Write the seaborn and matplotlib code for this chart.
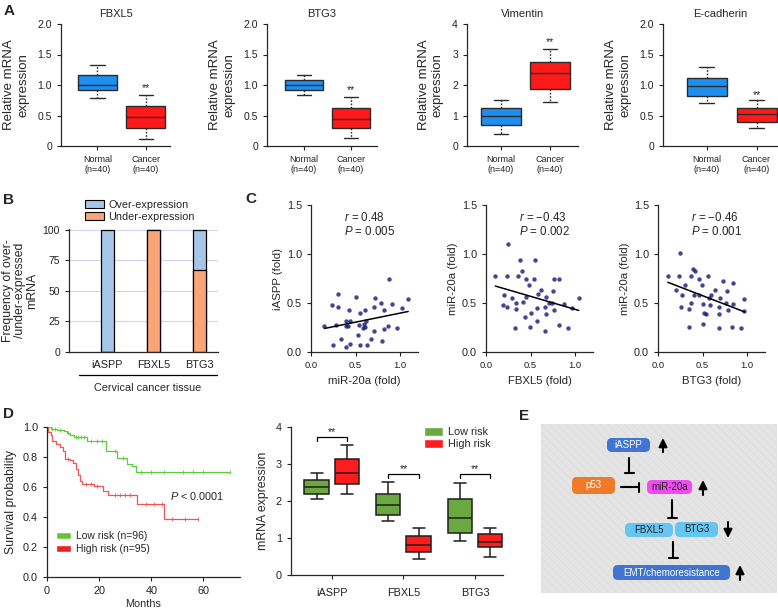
import numpy as np
import pandas as pd
import matplotlib
matplotlib.use("Agg")
import matplotlib.pyplot as plt
from matplotlib.patches import Patch, FancyBboxPatch, Rectangle
import seaborn as sns

# ---------------- data ----------------
# Panel A: five-number summaries (whisker low, q1, median, q3, whisker high)
genes_a = ["FBXL5", "BTG3", "Vimentin", "E-cadherin"]
groups_a = ["Normal\n(n=40)", "Cancer\n(n=40)"]
fbxl5_normal = [0.78, 0.91, 1.00, 1.17, 1.32]
fbxl5_cancer = [0.12, 0.30, 0.48, 0.66, 0.83]
btg3_normal = [0.83, 0.92, 1.00, 1.08, 1.17]
btg3_cancer = [0.13, 0.30, 0.45, 0.63, 0.80]
vim_normal = [0.40, 0.70, 1.00, 1.25, 1.52]
vim_cancer = [1.45, 1.88, 2.38, 2.75, 3.18]
ecad_normal = [0.71, 0.82, 0.98, 1.12, 1.30]
ecad_cancer = [0.30, 0.40, 0.52, 0.63, 0.75]
star_y_a = [0.95, 0.92, 3.40, 0.84]
ymax_a = [2.0, 2.0, 4.0, 2.0]

# Panel B: frequency of over/under-expressed mRNA (%)
genes_b = ["iASPP", "FBXL5", "BTG3"]
over_b = [100, 0, 33]
under_b = [0, 100, 67]

# Panel C: scatter data
mir_c1 = [0.15, 0.25, 0.24, 0.30, 0.30, 0.28, 0.34, 0.39, 0.39, 0.39, 0.44, 0.43, 0.44,
          0.41, 0.50, 0.53, 0.54, 0.55, 0.55, 0.58, 0.60, 0.62, 0.61, 0.63, 0.67, 0.72,
          0.71, 0.71, 0.79, 0.80, 0.82, 0.82, 0.86, 0.87, 0.91, 0.97, 1.02, 1.09, 0.59]
iaspp_c1 = [0.27, 0.07, 0.48, 0.59, 0.46, 0.28, 0.13, 0.05, 0.32, 0.27, 0.32, 0.43, 0.08,
            0.27, 0.56, 0.17, 0.28, 0.40, 0.075, 0.25, 0.43, 0.32, 0.26, 0.075, 0.13, 0.55,
            0.46, 0.21, 0.50, 0.11, 0.43, 0.23, 0.27, 0.74, 0.49, 0.25, 0.45, 0.54, 0.29]
fbxl5_c2 = [0.105, 0.20, 0.19, 0.23, 0.25, 0.24, 0.29, 0.34, 0.34, 0.33, 0.36, 0.38, 0.40,
            0.41, 0.45, 0.45, 0.44, 0.48, 0.50, 0.49, 0.54, 0.55, 0.57, 0.58, 0.57, 0.62,
            0.66, 0.67, 0.67, 0.66, 0.74, 0.75, 0.76, 0.76, 0.82, 0.82, 0.87, 0.92, 0.97,
            1.04, 0.71]
mir_c2 = [0.78, 0.58, 0.48, 0.78, 1.10, 0.46, 0.55, 0.50, 0.44, 0.24, 0.78, 0.94, 0.83,
          0.51, 0.75, 0.56, 0.36, 0.68, 0.40, 0.26, 0.75, 0.94, 0.45, 0.59, 0.32, 0.63,
          0.46, 0.39, 0.56, 0.21, 0.50, 0.62, 0.75, 0.43, 0.75, 0.28, 0.49, 0.25, 0.45,
          0.55, 0.50]
btg3_c3 = [0.11, 0.20, 0.25, 0.24, 0.27, 0.26, 0.30, 0.35, 0.35, 0.37, 0.37, 0.39, 0.41,
           0.40, 0.46, 0.46, 0.49, 0.51, 0.51, 0.52, 0.54, 0.56, 0.58, 0.59, 0.64, 0.68,
           0.68, 0.68, 0.69, 0.73, 0.77, 0.76, 0.78, 0.83, 0.84, 0.84, 0.93, 0.96, 0.97, 0.57]
mir_c3 = [0.78, 0.63, 1.01, 0.78, 0.58, 0.46, 0.68, 0.44, 0.26, 0.50, 0.78, 0.85, 0.83,
          0.58, 0.58, 0.75, 0.68, 0.29, 0.49, 0.40, 0.39, 0.78, 0.48, 0.58, 0.63, 0.46,
          0.39, 0.25, 0.55, 0.72, 0.62, 0.50, 0.43, 0.26, 0.70, 0.49, 0.25, 0.42, 0.54, 0.55]
r_c = ["0.48", "\u22120.43", "\u22120.46"]
p_c = ["0.005", "0.002", "0.001"]

# Panel D left: Kaplan-Meier step values
low_t = [0, 1.5, 4, 6.5, 7.5, 9, 10.5, 15.5, 22.5, 27, 30.5, 32.5, 34, 70]
low_s = [1.0, 0.99, 0.98, 0.975, 0.96, 0.945, 0.935, 0.91, 0.84, 0.795, 0.755, 0.74, 0.70, 0.70]
high_t = [0, 0.5, 1.5, 2, 3.5, 5, 6, 6.8, 9, 10, 11, 11.8, 12.5, 13.5, 18, 21.5, 23.5, 34.5, 45, 58]
high_s = [1.0, 0.97, 0.95, 0.91, 0.89, 0.87, 0.84, 0.79, 0.78, 0.76, 0.72, 0.68, 0.64, 0.62,
          0.61, 0.575, 0.545, 0.49, 0.39, 0.39]
low_cens = [2, 3, 5, 8, 11, 12, 13, 14, 17, 19, 21, 26, 29, 36, 40, 45, 52, 56, 60, 70]
high_cens = [8, 15, 17, 19, 26, 28, 30, 32, 38, 41, 44, 48, 53, 58]

# Panel D right: five-number summaries by risk group
genes_d = ["iASPP", "FBXL5", "BTG3"]
risk_d = ["Low risk", "High risk"]
low_iaspp = [2.05, 2.20, 2.38, 2.57, 2.77]
high_iaspp = [2.20, 2.47, 2.75, 3.13, 3.52]
low_fbxl5 = [1.45, 1.62, 1.88, 2.20, 2.52]
high_fbxl5 = [0.43, 0.62, 0.82, 1.05, 1.28]
low_btg3 = [0.92, 1.13, 1.55, 2.05, 2.48]
high_btg3 = [0.50, 0.75, 0.90, 1.12, 1.27]
bracket_y_d = [3.73, 2.73, 2.73]

# ---------------- style ----------------
sns.set_style("ticks")
plt.rcParams["font.family"] = ["Liberation Sans", "DejaVu Sans"]
plt.rcParams["mathtext.fontset"] = "custom"
plt.rcParams["mathtext.rm"] = "Liberation Sans"
plt.rcParams["mathtext.it"] = "Liberation Sans:italic"
plt.rcParams["xtick.labelsize"] = 7.5
plt.rcParams["ytick.labelsize"] = 7.5
plt.rcParams["axes.linewidth"] = 0.9
plt.rcParams["xtick.major.size"] = 3
plt.rcParams["ytick.major.size"] = 3
plt.rcParams["hatch.linewidth"] = 0.4

W, H = 778, 610
fig = plt.figure(figsize=(W / 100, H / 100), dpi=100)


def px_axes(left, top, width, height):
    return fig.add_axes([left / W, 1 - (top + height) / H, width / W, height / H])


def clean(ax):
    sns.despine(ax=ax)
    ax.tick_params(colors="#222222", width=0.8)


# ---------------- panel A ----------------
a_blue, a_red = "#1e8ff0", "#ff1a1a"
normals = [fbxl5_normal, btg3_normal, vim_normal, ecad_normal]
cancers = [fbxl5_cancer, btg3_cancer, vim_cancer, ecad_cancer]
a_layout = [(61, 109, (-0.75, 1.5)), (267, 110, (-0.78, 1.55)),
            (467, 111, (-0.69, 1.57)), (663, 115, (-0.87, 1.43))]
for gene, normal, cancer, ymax, star, (left, width, xl) in zip(
        genes_a, normals, cancers, ymax_a, star_y_a, a_layout):
    ax = px_axes(left, 24, width, 122)
    df = pd.DataFrame({"group": [groups_a[0]] * 5 + [groups_a[1]] * 5,
                       "value": normal + cancer})
    sns.boxplot(data=df, x="group", y="value", hue="group", palette=[a_blue, a_red],
                saturation=1, width=0.8, whis=np.inf, linecolor="#2a2a2a", linewidth=1.0,
                showfliers=False, legend=False, ax=ax, capwidths=0.3,
                whiskerprops={"linestyle": (0, (1.2, 1.2))})
    ax.text(1, star, "**", ha="center", va="center", fontsize=7.5)
    ax.set_xlim(*xl)
    ax.set_ylim(0, ymax)
    if ymax == 4.0:
        ax.set_yticks([0, 1, 2, 3, 4])
        ax.set_yticklabels(["0", "1", "2", "3", "4"])
    else:
        ax.set_yticks([0, 0.5, 1.0, 1.5, 2.0])
        ax.set_yticklabels(["0", "0.5", "1.0", "1.5", "2.0"])
    ax.set_xlabel("")
    ax.set_ylabel("Relative mRNA\nexpression", fontsize=9.5, labelpad=6)
    ax.set_title(gene, fontsize=8, pad=5)
    ax.tick_params(axis="x", labelsize=6.5)
    clean(ax)

# ---------------- panel B ----------------
b_over, b_under = "#a6c6e8", "#f9a576"
ax = px_axes(69, 229, 149, 123)
total_b = [o + u for o, u in zip(over_b, under_b)]
ax.yaxis.grid(True, color="#d2d2f2", lw=0.8)
ax.set_axisbelow(True)
sns.barplot(x=genes_b, y=total_b, color=b_over, saturation=1, width=0.28,
            edgecolor="black", linewidth=0.9, ax=ax)
sns.barplot(x=genes_b, y=under_b, color=b_under, saturation=1, width=0.28,
            edgecolor="black", linewidth=0.9, ax=ax)
ax.set_xlim(-0.83, 2.4)
ax.set_ylim(0, 100.6)
ax.set_yticks([0, 25, 50, 75, 100])
ax.tick_params(axis="x", length=0, labelsize=7.8, pad=6)
ax.set_ylabel("Frequency of over-\n/under-expressed\nmRNA", fontsize=8.8, labelpad=3,
              linespacing=1.05)
ax.plot([0.067, 0.99], [-0.19, -0.19], color="black", lw=0.9,
        transform=ax.transAxes, clip_on=False)
ax.text(0.53, -0.29, "Cervical cancer tissue", fontsize=7.8, ha="center", va="center",
        transform=ax.transAxes)
ax.legend(handles=[Patch(facecolor=b_over, edgecolor="black", lw=0.8, label="Over-expression"),
                   Patch(facecolor=b_under, edgecolor="black", lw=0.8, label="Under-expression")],
          loc="lower left", bbox_to_anchor=(85 / W, 1 - 222 / H), bbox_transform=fig.transFigure,
          frameon=False, fontsize=7.8, handlelength=1.75, handleheight=0.8,
          handletextpad=0.4, labelspacing=0.2, borderpad=0, borderaxespad=0)
clean(ax)

# ---------------- panel C ----------------
c_sets = [(mir_c1, iaspp_c1, "miR-20a (fold)", "iASPP (fold)"),
          (fbxl5_c2, mir_c2, "FBXL5 (fold)", "miR-20a (fold)"),
          (btg3_c3, mir_c3, "BTG3 (fold)", "miR-20a (fold)")]
c_left = [311, 486, 658]
for (xs, ys, xlab, ylab), left, r, p in zip(c_sets, c_left, r_c, p_c):
    ax = px_axes(left, 205, 107, 147)
    sns.regplot(x=np.array(xs), y=np.array(ys), ci=None, ax=ax,
                scatter_kws={"s": 10, "color": "#15157a", "linewidths": 0},
                line_kws={"color": "black", "lw": 1.1})
    ax.set_xlim(0, 1.2)
    ax.set_ylim(0, 1.5)
    ax.set_xticks([0, 0.5, 1.0])
    ax.set_xticklabels(["0.0", "0.5", "1.0"])
    ax.set_yticks([0, 0.5, 1.0, 1.5])
    ax.set_yticklabels(["0.0", "0.5", "1.0", "1.5"])
    ax.tick_params(axis="x", labelsize=6.8)
    ax.tick_params(axis="y", labelsize=7.8)
    ax.set_xlabel(xlab, fontsize=8.2, labelpad=4)
    ax.set_ylabel(ylab, fontsize=8.2, labelpad=3)
    ax.text(0.31, 0.915, "$r$ = " + r, fontsize=8.3, transform=ax.transAxes, va="center")
    ax.text(0.31, 0.82, "$P$ = " + p, fontsize=8.3, transform=ax.transAxes, va="center")
    clean(ax)

# ---------------- panel D left (survival) ----------------
km_green, km_red = "#5ccc3c", "#f25454"
ax = px_axes(47, 427, 193, 150)
for t, s, cens, col in [(low_t, low_s, low_cens, km_green), (high_t, high_s, high_cens, km_red)]:
    sns.lineplot(x=t, y=s, drawstyle="steps-post", color=col, lw=0.9, ax=ax,
                 estimator=None, sort=False)
    idx = np.searchsorted(t, cens, side="right") - 1
    ax.plot(cens, np.array(s)[idx], ls="none", marker="|", ms=2.5, mew=0.6, color=col)
ax.set_xlim(0, 74)
ax.set_ylim(0, 1.0)
ax.set_xticks([0, 20, 40, 60])
ax.set_yticks([0, 0.2, 0.4, 0.6, 0.8, 1.0])
ax.set_yticklabels(["0.0", "0.2", "0.4", "0.6", "0.8", "1.0"])
ax.tick_params(labelsize=7.8)
ax.set_xlabel("Months", fontsize=7.8, labelpad=2)
ax.set_ylabel("Survival probability", fontsize=8.8, labelpad=4)
ax.text(47, 0.54, "$P$ < 0.0001", fontsize=7.8, va="center")
ax.legend(handles=[Patch(facecolor="#66c43a", label="Low risk (n=96)"),
                   Patch(facecolor="#ee2020", label="High risk (n=95)")],
          loc="lower left", bbox_to_anchor=(56 / W, 1 - 554 / H), bbox_transform=fig.transFigure,
          frameon=False, fontsize=7.5, handlelength=1.4, handleheight=0.6,
          handletextpad=0.5, labelspacing=0.3, borderpad=0, borderaxespad=0)
clean(ax)

# ---------------- panel D right (boxes by risk) ----------------
d_green, d_red = "#6aa840", "#ff1c1c"
lows = [low_iaspp, low_fbxl5, low_btg3]
highs = [high_iaspp, high_fbxl5, high_btg3]
rows = []
for g, lo, hi in zip(genes_d, lows, highs):
    rows += [(g, risk_d[0], v) for v in lo] + [(g, risk_d[1], v) for v in hi]
df_d = pd.DataFrame(rows, columns=["gene", "risk", "value"])
ax = px_axes(291, 427, 212, 148)
sns.boxplot(data=df_d, x="gene", y="value", hue="risk", palette=[d_green, d_red],
            saturation=1, width=0.85, gap=0.2, whis=np.inf, linecolor="#1e1e1e",
            linewidth=1.1, showfliers=False, legend=False, ax=ax)
off = 0.85 / 4
for i, by in enumerate(bracket_y_d):
    ax.plot([i - off, i - off, i + off, i + off], [by - 0.12, by, by, by - 0.12],
            color="black", lw=0.9)
    ax.text(i, by + 0.14, "**", ha="center", va="center", fontsize=7.5)
ax.set_xlim(-0.57, 2.39)
ax.set_ylim(0, 4)
ax.set_yticks([0, 1, 2, 3, 4])
ax.set_xlabel("")
ax.set_ylabel("mRNA expression", fontsize=8.8, labelpad=5)
ax.tick_params(axis="x", labelsize=7.8, pad=6)
ax.tick_params(axis="y", labelsize=7.8)
ax.legend(handles=[Patch(facecolor=d_green, label=risk_d[0]),
                   Patch(facecolor=d_red, label=risk_d[1])],
          loc="lower left", bbox_to_anchor=(424 / W, 1 - 449 / H), bbox_transform=fig.transFigure,
          frameon=False, fontsize=7.8, handlelength=1.75, handleheight=0.85,
          handletextpad=0.45, labelspacing=0.15, borderpad=0, borderaxespad=0)
clean(ax)

# ---------------- panel E (schematic) ----------------
ax = px_axes(541, 424, 236, 169)
ax.set_xlim(0, 236)
ax.set_ylim(169, 0)
ax.axis("off")
ax.add_patch(Rectangle((0, 0), 236, 169, facecolor="#e4e4e4", edgecolor="#d9d9d9",
                       hatch="\\\\\\\\", lw=0))
nodes = {
    "iASPP": ((87.5, 21), 43, 14, "#4274d2", "white"),
    "p53": ((52.5, 61.5), 43, 17, "#ef7a2a", "white"),
    "miR-20a": ((128.5, 63), 45, 14, "#f04cf0", "#222222"),
    "FBXL5": ((108, 106), 48, 14, "#66c6f2", "#222222"),
    "BTG3": ((155.5, 105.5), 43, 15, "#66c6f2", "#222222"),
    "EMT/chemoresistance": ((130.5, 148.5), 117, 15, "#4274d2", "white"),
}
for name, ((cx, cy), w, h, fc, tc) in nodes.items():
    ax.add_patch(FancyBboxPatch((cx - w / 2 + 3, cy - h / 2 + 3), w - 6, h - 6,
                                boxstyle="round,pad=3,rounding_size=5",
                                facecolor=fc, edgecolor="none"))
    ax.text(cx, cy, name, ha="center", va="center", fontsize=7, color=tc)
# activation / repression arrows
for x, y0, y1 in [(122, 28, 14), (162, 71, 56), (187, 98, 114), (199, 156, 141)]:
    ax.annotate("", xy=(x, y1), xytext=(x, y0),
                arrowprops=dict(arrowstyle="-|>,head_length=0.5,head_width=0.25",
                                lw=1.5, color="black", shrinkA=0, shrinkB=0))
for x0, y0, x1, y1 in [(88, 34, 88, 49), (131, 76, 131, 94), (132, 118, 132, 134)]:
    ax.plot([x0, x1], [y0, y1], color="black", lw=1.5)
    ax.plot([x1 - 4.5, x1 + 4.5], [y1, y1], color="black", lw=1.5)
ax.plot([80, 98], [63, 63], color="black", lw=1.5)
ax.plot([98, 98], [58.5, 67.5], color="black", lw=1.5)

# ---------------- panel letters ----------------
for letter, x, y in [("A", 4, 4), ("B", 3, 193), ("C", 245, 192), ("D", 3, 407), ("E", 519, 409)]:
    fig.text(x / W, 1 - y / H, letter, fontsize=11, fontweight="bold", va="top", ha="left")

fig.savefig("out.png", dpi=100)
